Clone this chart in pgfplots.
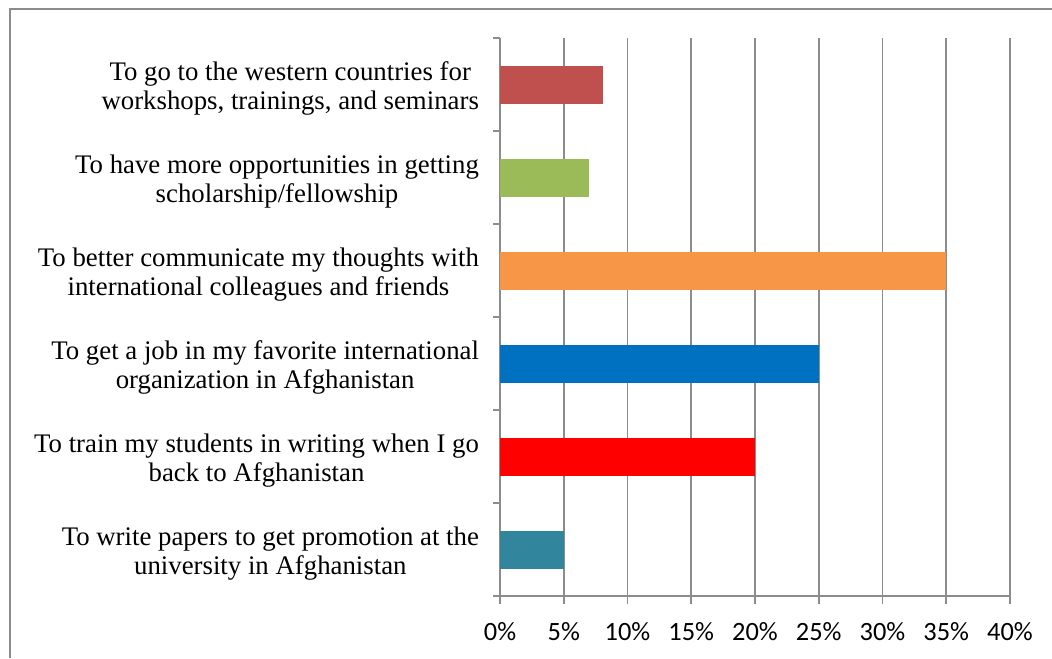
\documentclass[border=0pt]{standalone}
\usepackage{fontspec}
\setmainfont{Liberation Serif}
\newfontfamily\carlito{Carlito}
\usepackage{pgfplots}
\pgfplotsset{compat=1.18}
\definecolor{gridc}{HTML}{8C8C8C}
\definecolor{c1}{HTML}{C0504D}
\definecolor{c2}{HTML}{9BBB59}
\definecolor{c3}{HTML}{F79646}
\definecolor{c4}{HTML}{0070C0}
\definecolor{c5}{HTML}{FF0000}
\definecolor{c6}{HTML}{31859C}
\begin{document}
\begin{tikzpicture}
\path[use as bounding box] (0,0) rectangle (526pt,-329pt);
\draw[gridc, line width=0.8pt] (5pt,-329pt) -- (5pt,-4.5pt) -- (526pt,-4.5pt);
\begin{axis}[
  at={(250pt,-298pt)}, anchor=south west,
  scale only axis, width=255pt, height=279pt,
  xmin=0, xmax=40, ymin=-0.5, ymax=5.5,
  axis x line*=bottom, axis y line*=left,
  axis line style={gridc, line width=0.8pt},
  xtick={0,5,...,40},
  xticklabels={0\%,5\%,10\%,15\%,20\%,25\%,30\%,35\%,40\%},
  xticklabel style={font=\carlito\fontsize{13.2}{15}\selectfont, yshift=-5.5pt},
  xmajorgrids, grid style={gridc, line width=0.8pt},
  major x tick style={gridc, line width=0.8pt},
  xtick align=outside, major tick length=4pt,
  ytick={0,1,2,3,4,5},
  yticklabels={
    {To write papers to get promotion at the\\university in Afghanistan},
    {To train my students in writing when I go\\back to Afghanistan},
    {To get a job in my favorite international\\organization in Afghanistan},
    {To better communicate my thoughts with\\international colleagues and friends},
    {To have more opportunities in getting\\scholarship/fellowship},
    {To go to the western countries for\\workshops, trainings, and seminars}},
  yticklabel style={font=\fontsize{13.4}{14.5}\selectfont, align=center, xshift=-3pt, yshift=-1.8pt},
  major y tick style={draw=none},
  minor ytick={-0.5,0.5,...,5.5},
  minor y tick style={gridc, line width=0.8pt},
  minor tick length=3.5pt, ytick align=outside,
  xbar, bar width=19pt, bar shift=0pt,
  clip=false,
]
\addplot[fill=c6, draw=none] coordinates {(5,0)};
\addplot[fill=c5, draw=none] coordinates {(20,1)};
\addplot[fill=c4, draw=none] coordinates {(25,2)};
\addplot[fill=c3, draw=none] coordinates {(35,3)};
\addplot[fill=c2, draw=none] coordinates {(7,4)};
\addplot[fill=c1, draw=none] coordinates {(8.1,5)};
\end{axis}
\end{tikzpicture}
\end{document}
